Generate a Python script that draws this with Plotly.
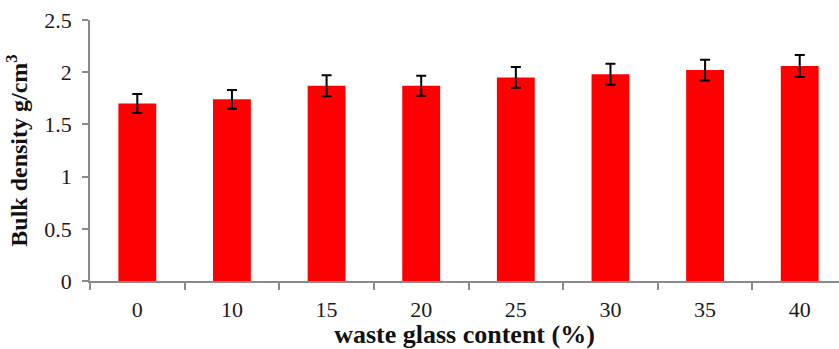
import plotly.graph_objects as go

# Bulk density of samples versus waste glass content
glass_content = ["0", "10", "15", "20", "25", "30", "35", "40"]
bulk_density = [1.70, 1.74, 1.87, 1.87, 1.95, 1.98, 2.02, 2.06]
density_error = [0.09, 0.09, 0.10, 0.095, 0.10, 0.10, 0.10, 0.105]
y_ticks = [0, 0.5, 1, 1.5, 2, 2.5]
y_tick_labels = ["0", "0.5", "1", "1.5", "2", "2.5"]

serif = "Liberation Serif, Times New Roman, serif"

fig = go.Figure(
    go.Bar(
        x=glass_content,
        y=bulk_density,
        width=0.4,
        marker=dict(color="#ff0000", line=dict(width=0)),
        error_y=dict(
            type="data",
            array=density_error,
            visible=True,
            color="#000000",
            thickness=2,
            width=5,
        ),
    )
)

fig.update_layout(
    width=839,
    height=349,
    margin=dict(l=90, r=0, t=20, b=68),
    paper_bgcolor="white",
    plot_bgcolor="white",
    showlegend=False,
    font=dict(family=serif, size=22, color="#1a1a1a"),
)

fig.update_xaxes(
    type="category",
    range=[-0.5, 7.415],
    tickson="boundaries",
    ticks="outside",
    ticklen=7,
    tickwidth=1.5,
    tickcolor="#8a8a8a",
    showline=True,
    linecolor="#8a8a8a",
    linewidth=1.5,
    showgrid=False,
    tickfont=dict(family=serif, size=22, color="#1a1a1a"),
    ticklabelstandoff=8,
    title=dict(
        text="<b>waste glass content (%)</b>",
        font=dict(family=serif, size=26, color="#111111"),
        standoff=0,
    ),
)

fig.update_yaxes(
    range=[0, 2.5],
    tickvals=y_ticks,
    ticktext=y_tick_labels,
    ticks="outside",
    ticklen=6,
    tickwidth=1.5,
    tickcolor="#8a8a8a",
    showline=True,
    linecolor="#8a8a8a",
    linewidth=1.5,
    showgrid=False,
    zeroline=False,
    tickfont=dict(family=serif, size=22, color="#1a1a1a"),
    ticklabelstandoff=6,
    title=dict(
        text="<b>Bulk density g/cm<sup>3</sup></b>",
        font=dict(family=serif, size=24, color="#111111"),
        standoff=10,
    ),
)

fig.write_html("out.html")
